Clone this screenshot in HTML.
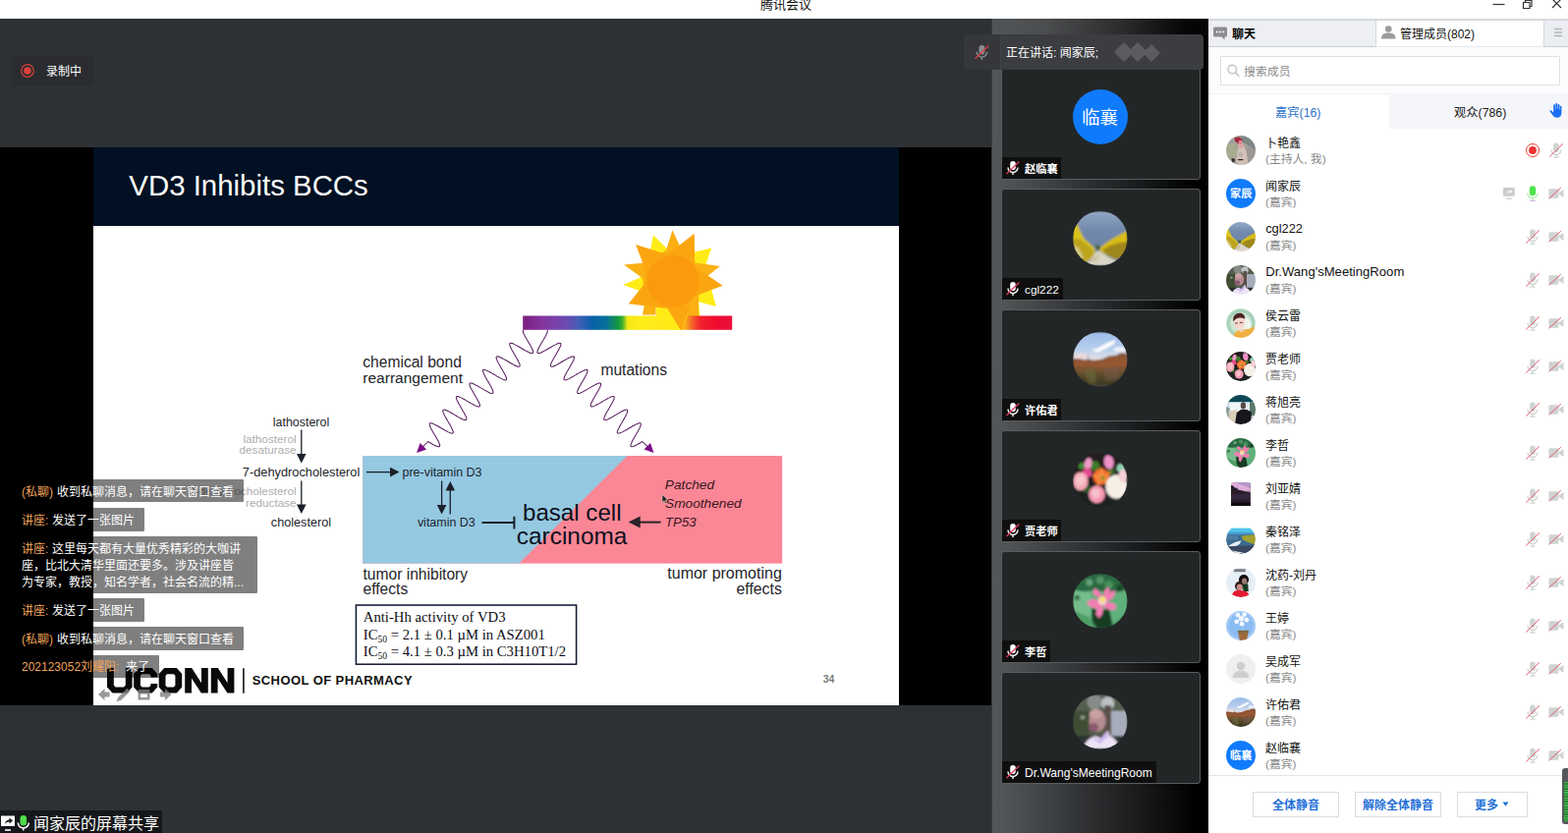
<!DOCTYPE html><html><head><meta charset="utf-8"><title>Tencent Meeting</title><style>
html,body{margin:0;padding:0}
body{width:1596px;height:848px;overflow:hidden;background:#2e3134;position:relative;font-family:"Liberation Sans",sans-serif}
div,span,svg.t,svg.a{position:absolute}
span{white-space:nowrap}
text{white-space:pre}
.ls{font-family:"Liberation Sans",sans-serif}
.lf{font-family:"Liberation Serif",serif}
.lm{font-family:"Liberation Mono",monospace}
.cj{font-family:"Liberation Sans","Noto Sans CJK SC",sans-serif}
svg{overflow:visible}
</style></head><body><svg width="0" height="0" style="position:absolute"><defs><clipPath id="cc"><circle cx="50" cy="50" r="50"/></clipPath><filter id="bl" x="-5%" y="-5%" width="110%" height="110%"><feGaussianBlur stdDeviation="2"/></filter><symbol id="av_road" viewBox="0 0 100 100"><g clip-path="url(#cc)"><g filter="url(#bl)"><linearGradient id="rsky" x1="0" x2="0" y1="0" y2="1"><stop offset="0" stop-color="#93a8c6"/><stop offset=".35" stop-color="#7189ac"/><stop offset="1" stop-color="#6a82a4"/></linearGradient><rect width="100" height="100" fill="url(#rsky)"/><path d="M0 18L8 23L13.400 36.600L20 50L30.600 59L39.500 68L41 74L36.500 84L24.600 93L14 100H0z" fill="#dcc41c"/><path d="M0 52L12 50L24 60L36 70L39 76L34 84L22 92L6 88z" fill="#b39a1c" opacity=".75"/><path d="M0 62L10 66L20 84L10 92L0 90z" fill="#d6cf9a" opacity=".8"/><path d="M100 35L90 41L78 47L66 54.500L56 62L48.500 68L51.500 75L63.400 81L78 88L92 84L100 76z" fill="#d9bb18"/><path d="M100 56L84 58L66 64L54 72L63.400 81L78 88L92 84L100 76z" fill="#8f7a1e" opacity=".8"/><path d="M45.500 72L51.500 75L69 86L80 91L64 100H18L27.600 94L36.500 84L41 76z" fill="#dad6c6"/><path d="M30 92L44 80L50 80L44 92z" fill="#c9bf9c" opacity=".8"/><path d="M40 62L50 62L50 70L44 72z" fill="#50603c"/></g></g></symbol><symbol id="av_mtn" viewBox="0 0 100 100"><g clip-path="url(#cc)"><g filter="url(#bl)"><linearGradient id="msky" x1="0" x2="0" y1="0" y2="1"><stop offset="0" stop-color="#9dbdea"/><stop offset=".3" stop-color="#b5cdec"/><stop offset=".5" stop-color="#e2e2ea"/></linearGradient><linearGradient id="mgr" x1="0" x2="0" y1="0" y2="1"><stop offset=".38" stop-color="#8a5232"/><stop offset=".55" stop-color="#6e5230"/><stop offset=".75" stop-color="#4f4428"/><stop offset="1" stop-color="#37341f"/></linearGradient><rect width="100" height="100" fill="url(#msky)"/><path d="M35 30C40 33 46 30 52 26C60 21 68 18 76 15C79 16 78 20 72 24C64 29 56 32 50 35C44 37 36 35 35 30z" fill="#fff"/><ellipse cx="86" cy="32" rx="12" ry="5" fill="#fff" opacity=".7"/><ellipse cx="14" cy="44" rx="14" ry="4" fill="#f0d8d4" opacity=".8"/><path d="M0 48.500L12 49L23 50.700L27 50L28 41L29 50L38 51.500L53 50L66.400 44L80 42.500L87 38L100 39.500V100H0z" fill="url(#mgr)"/><path d="M0 56L20 53L40 58L60 54L66 48L80 46L100 50V62L60 66L30 62L0 64z" fill="#a05c34" opacity=".55"/><path d="M20 70L40 66L44 92L30 96z" fill="#6c6a3c" opacity=".6"/><path d="M56 66L84 62L86 86L60 90z" fill="#7a5a48" opacity=".5"/></g></g></symbol><symbol id="av_flowers" viewBox="0 0 100 100"><g clip-path="url(#cc)"><g filter="url(#bl)"><rect width="100" height="100" fill="#241a1f"/><rect y="55" width="100" height="45" fill="#1e2022"/><circle cx="40" cy="24" r="9" fill="#3c7c2a"/><circle cx="70" cy="34" r="7" fill="#2f6a24"/><circle cx="16" cy="24" r="6" fill="#3f8a34"/><circle cx="26" cy="66" r="7" fill="#2f5a26"/><ellipse cx="28" cy="20" rx="7" ry="11" fill="#ef9cc6" transform="rotate(15 28 20)"/><ellipse cx="66" cy="17" rx="9" ry="13" fill="#ee93c8" transform="rotate(-10 66 17)"/><circle cx="26" cy="37" r="9" fill="#e44a90"/><circle cx="88" cy="28" r="8" fill="#8fd2b2"/><circle cx="52" cy="44" r="15" fill="#f2672a"/><path d="M52 24L58 40L72 32L62 46L70 58L54 52L44 62L44 48L34 40L48 38z" fill="#f58a3c"/><circle cx="55" cy="46" r="3.500" fill="#6a8a24"/><ellipse cx="14" cy="52" rx="14" ry="17" fill="#f5aab6"/><ellipse cx="14" cy="50" rx="8" ry="10" fill="#f8c4cc"/><ellipse cx="44" cy="76" rx="15" ry="16" fill="#f59ab2"/><ellipse cx="42" cy="74" rx="8" ry="9" fill="#f9c0cc"/><ellipse cx="80" cy="62" rx="20" ry="22" fill="#f6f0e6"/><ellipse cx="92" cy="42" rx="8" ry="12" fill="#f6cfd6"/></g></g></symbol><symbol id="av_lotus" viewBox="0 0 100 100"><g clip-path="url(#cc)"><g filter="url(#bl)"><rect width="100" height="100" fill="#62ae7c"/><path d="M0 0H100V30L70 36L40 30L0 36z" fill="#2a6a42"/><path d="M0 30L30 34L40 60L30 80L0 70z" fill="#74bd8c"/><path d="M66 50L100 40V80L76 92L62 76z" fill="#5fb07c"/><path d="M34 62L50 70L66 62L74 100H36z" fill="#143c22"/><path d="M0 66L30 80L44 100H10z" fill="#4f9e66"/><path d="M70 96L100 70V100z" fill="#3f8f5a"/><circle cx="30" cy="16" r="6" fill="#8fc8a0" opacity=".6"/><circle cx="50" cy="12" r="7" fill="#7fb890" opacity=".5"/><circle cx="66" cy="20" r="8" fill="#4f9a64" opacity=".8"/><circle cx="86" cy="26" r="6" fill="#153c22" opacity=".8"/><circle cx="8" cy="44" r="5" fill="#1f5030" opacity=".7"/><g fill="#f27db2"><path d="M52 48L36 36L40 26L48 32L54 42z"/><path d="M54 46L58 30L66 24L68 34L60 46z"/><path d="M58 48L70 32L79 32L74 44L62 52z"/><path d="M52 50L36 46L24 53L34 62L46 64L54 56z"/><path d="M56 54L70 52L80 58L78 66L64 66L56 60z"/><path d="M50 58L56 62L54 74L48 82L42 74L44 64z"/></g><circle cx="54" cy="50" r="8" fill="#f9cdd2"/><circle cx="54.500" cy="47" r="5" fill="#f5e468"/></g></g></symbol><symbol id="av_wang" viewBox="0 0 100 100"><g clip-path="url(#cc)"><g filter="url(#bl)"><rect width="100" height="100" fill="#555f50"/><rect x="0" y="30" width="30" height="50" fill="#3f4d35"/><circle cx="40" cy="14" r="14" fill="#9aa0a0" opacity=".7"/><circle cx="64" cy="16" r="12" fill="#d8d8e0" opacity=".8"/><rect x="70" y="30" width="30" height="50" fill="#a8adbb"/><rect x="58" y="20" width="12" height="60" fill="#5a5048"/><circle cx="18" cy="42" r="4" fill="#c8d0c0" opacity=".6"/><rect y="76" width="100" height="24" fill="#2c3030"/><ellipse cx="45" cy="48" rx="15.500" ry="20" fill="#b58c90"/><ellipse cx="42" cy="36" rx="12" ry="9" fill="#c9a2a2"/><ellipse cx="38" cy="60" rx="9" ry="8" fill="#8a5a70"/><path d="M18 100C22 84 34 78 42 76L52 80L64 66L68 76C80 82 84 92 86 100z" fill="#ece4f6"/><path d="M34 80L50 82L62 68L66 76L50 90z" fill="#cdb8ee"/></g></g></symbol><symbol id="av_baby" viewBox="0 0 100 100"><g clip-path="url(#cc)"><g filter="url(#bl)"><rect width="100" height="100" fill="#a0a09a"/><path d="M50 0H100V50C86 42 70 30 56 22z" fill="#7d8585"/><path d="M0 30L34 24L36 70L10 90L0 80z" fill="#a9aa92"/><path d="M66 40L100 50V80L70 96z" fill="#9c9894"/><path d="M34 92L38 50L44 36L60 34L68 52L74 90L50 100z" fill="#d3c1b6"/><circle cx="50" cy="34" r="10" fill="#dba8a4"/><path d="M28 8L44 4L56 14L50 28L38 26L30 18z" fill="#a62a3c"/><circle cx="48" cy="22" r="6" fill="#e08a94"/><rect x="42" y="58" width="14" height="14" fill="#b6b2ac"/><rect x="40" y="80" width="18" height="4" fill="#30201c"/><path d="M18 76L30 80L28 92L20 88z" fill="#3a2a2a"/></g></g></symbol><symbol id="av_cartoon" viewBox="0 0 100 100"><g clip-path="url(#cc)"><g filter="url(#bl)"><rect width="100" height="100" fill="#cfe6d6"/><circle cx="50" cy="50" r="42" fill="none" stroke="#a8d2ba" stroke-width="12"/><circle cx="62" cy="56" r="24" fill="#eef4ea"/><path d="M24 100C26 80 40 72 56 72C76 72 90 66 94 58L100 100z" fill="#f0b040"/><path d="M40 70L58 68L60 78L46 80z" fill="#f3d2c4"/><ellipse cx="45" cy="46" rx="19" ry="23" fill="#f6d6cc"/><path d="M24 44C22 26 32 16 46 16C58 16 64 24 64 36C54 30 40 30 30 38z" fill="#4a2420"/><path d="M30 50h10M46 48h10" stroke="#5a2a2a" stroke-width="3"/></g></g></symbol><symbol id="av_jiang" viewBox="0 0 100 100"><g clip-path="url(#cc)"><g filter="url(#bl)"><rect width="100" height="100" fill="#cfdfe8"/><path d="M0 0H100V24H0z" fill="#0e4658"/><rect x="12" y="26" width="40" height="36" fill="#eef6fa"/><rect x="66" y="26" width="14" height="32" fill="#e4eef4"/><rect x="80" y="24" width="20" height="50" fill="#5a7a6a"/><path d="M0 40L12 44V100H0z" fill="#8a9a98"/><path d="M8 56L36 50L34 100H12z" fill="#d9ceb8"/><ellipse cx="58" cy="36" rx="9" ry="12" fill="#5a4a4a"/><path d="M30 100L36 60L50 50L70 50L86 58L84 100z" fill="#14141a"/><rect x="86" y="70" width="14" height="30" fill="#c8ccd0"/></g></g></symbol><symbol id="av_liu" viewBox="0 0 100 100"><g clip-path="url(#cc)"><g filter="url(#bl)"><rect width="100" height="100" fill="#2b1e2e"/><rect width="100" height="34" fill="#b796cc"/><path d="M0 0L0 14L24 22L44 30L70 38L100 40V26L70 14L30 4z" fill="#e6b4dc" opacity=".85"/><path d="M0 12L10 14L24 26L30 22L36 32L50 34L56 40L70 42L100 44V100H0z" fill="#2a1a2c"/><path d="M0 50L100 46V70L0 74z" fill="#3a2c40" opacity=".7"/><rect y="84" width="100" height="16" fill="#0e0810"/></g></g></symbol><symbol id="av_qin" viewBox="0 0 100 100"><g clip-path="url(#cc)"><g filter="url(#bl)"><rect width="100" height="100" fill="#fff"/><rect y="12" width="100" height="20" fill="#4fc4e8"/><rect y="26" width="100" height="10" fill="#4a9ad0"/><rect y="34" width="100" height="40" fill="#3a6a90"/><path d="M52 38L100 34V68L78 62L56 52z" fill="#a0a030"/><path d="M8 72L30 60L52 54L46 66L24 80z" fill="#e8eef2"/><path d="M0 74L100 70V100H0z" fill="#3a4a64"/><path d="M20 88L60 96L40 100z" fill="#e0e6ea"/><rect y="36" width="40" height="16" fill="#5a8ab0" opacity=".6"/></g></g></symbol><symbol id="av_shen" viewBox="0 0 100 100"><g clip-path="url(#cc)"><g filter="url(#bl)"><rect width="100" height="100" fill="#e6eef6"/><rect x="26" y="4" width="40" height="10" fill="#7a7e86"/><ellipse cx="60" cy="40" rx="17" ry="17" fill="#14100f"/><ellipse cx="62" cy="46" rx="9" ry="11" fill="#9a7a74"/><path d="M56 56L74 54L76 80L58 80z" fill="#143a24"/><ellipse cx="44" cy="62" rx="14" ry="15" fill="#2a1a18"/><ellipse cx="46" cy="66" rx="10" ry="11" fill="#c89088"/><path d="M18 100C20 84 30 76 42 76L60 78C72 78 78 88 80 100z" fill="#e01c30"/></g></g></symbol><symbol id="av_wting" viewBox="0 0 100 100"><g clip-path="url(#cc)"><g filter="url(#bl)"><rect width="100" height="100" fill="#8cbcf4"/><circle cx="50" cy="50" r="46" fill="none" stroke="#a8ccf6" stroke-width="6"/><g fill="#f4f8ff"><circle cx="40" cy="14" r="8"/><circle cx="62" cy="12" r="8"/><circle cx="36" cy="36" r="8"/><circle cx="54" cy="44" r="8"/><circle cx="70" cy="30" r="8"/><circle cx="52" cy="26" r="9"/></g><path d="M56 50V70" stroke="#9ac8e8" stroke-width="3"/><path d="M40 68H76L70 100H46z" fill="#a0683c"/><rect x="40" y="66" width="36" height="8" fill="#7a6a3a"/></g></g></symbol><symbol id="av_default" viewBox="0 0 100 100"><g clip-path="url(#cc)"><g filter="url(#bl)"><rect width="100" height="100" fill="#efefef"/><circle cx="50" cy="40" r="14" fill="#cfcfcf"/><path d="M22 80C22 62 36 56 50 56C64 56 78 62 78 80z" fill="#cfcfcf"/></g></g></symbol></defs></svg><div style="left:0px;top:0px;width:1596px;height:19px;background:#fff"></div><svg class="t" style="left:773.8px;top:-5.2px" width="54.0" height="19.5"><text class="cj" x="0" y="13.65" font-size="13" fill="#111">腾讯会议</text></svg><svg class="a" style="left:1510px;top:0" width="86" height="19"><g stroke="#333" stroke-width="1.2" fill="none"><path d="M9.5 4.5h12"/><path d="M40.500 2.500h6.500v6h-6.500zM42.500 2.500v-2h6.500v6h-2"/><path d="M70 -1l9 9M79 -1l-9 9"/></g></svg><div style="left:13px;top:57px;width:82px;height:30px;background:#2a2c2f;border-radius:2px"></div><svg class="a" style="left:20px;top:64px" width="16" height="16"><circle cx="8" cy="8" r="6.3" fill="none" stroke="#d8403a" stroke-width="1.2"/><circle cx="8" cy="8" r="3.8" fill="#d8403a"/></svg><svg class="t" style="left:47.0px;top:64.3px" width="38.0" height="18.0"><text class="cj" x="0" y="12.6" font-size="12" fill="#fff">录制中</text></svg><div style="left:0px;top:150px;width:1009px;height:568px;background:#000"></div><div style="left:95px;top:150px;width:819.5px;height:568px;background:#fff"></div><div style="left:95px;top:150px;width:819.5px;height:80px;background:#011023"></div><svg class="t" style="left:0;top:0" width="1" height="1"><text class="ls" x="131.3" y="198.9" font-size="29.4" fill="#fff" text-anchor="start" textLength="243.5" lengthAdjust="spacing">VD3 Inhibits BCCs</text></svg><svg class="a" style="left:0;top:0" width="1009" height="848"><defs><linearGradient id="spec" x1="0" x2="1" y1="0" y2="0"><stop offset="0" stop-color="#7c1f80"/><stop offset="0.1" stop-color="#8436a0"/><stop offset="0.21" stop-color="#6b4cb2"/><stop offset="0.27" stop-color="#3f5fb5"/><stop offset="0.33" stop-color="#0a5fa9"/><stop offset="0.4" stop-color="#08709a"/><stop offset="0.455" stop-color="#12993e"/><stop offset="0.475" stop-color="#3cae2e"/><stop offset="0.5" stop-color="#f3e714"/><stop offset="0.56" stop-color="#ffee18"/><stop offset="0.74" stop-color="#ffe61a"/><stop offset="0.78" stop-color="#f9a51c"/><stop offset="0.81" stop-color="#f6602a"/><stop offset="0.85" stop-color="#f0202c"/><stop offset="0.93" stop-color="#f00a30"/><stop offset="1" stop-color="#e9113c"/></linearGradient></defs><polygon points="664.9,239.2 682.1,256.4 694.0,254.4 707.2,256.4 724.3,252.4 717.7,271.6 729.0,311.9 711.1,307.2 712.5,322.0 668.2,322.0 667.5,307.2 653.0,296.7 634.3,290.1 655.7,280.8 659.6,267.6" fill="#ffec17"/><polygon points="684.5,234.3 692.0,250.5 706.5,237.9 707.2,267.6 732.9,270.9 720.4,280.8 711.1,296.7 711.1,322.0 699.2,322.0 699.2,307.2 667.5,309.9 667.5,320.5 654.1,320.5 656.3,307.2 654.3,283.5 635.2,269.6 657.0,267.6 678.1,254.4" fill="#fbb013"/><polygon points="647.1,249.1 679.4,259.0 706.5,237.9 707.2,271.6 735.6,290.7 705.9,302.0 699.2,312.5 693.3,335.0 679.4,313.9 639.8,309.2 658.3,286.1 655.7,271.6" fill="#fba610"/><rect x="532.2" y="321.5" width="213" height="14.3" fill="url(#spec)"/><polygon points="668.2,321.1 699.5,321.1 694.8,335.6 679.4,335.6 668.2,322.0" fill="#ffec17"/><polygon points="679.4,313.9 702.6,312.5 699.0,321.1 694.8,335.6 692.4,335.6" fill="#fba610"/><circle cx="684.7" cy="286.1" r="26.4" fill="#fb9a0d"/><path d="M532.6 336.0 532.4 336.3 532.3 336.7 532.3 337.3 532.5 338.0 532.7 338.8 533.1 339.7 533.6 340.6 534.1 341.7 534.7 342.9 535.4 344.0 536.1 345.3 536.8 346.5 537.6 347.8 538.3 349.1 539.1 350.4 539.8 351.6 540.4 352.8 541.0 353.9 541.5 354.9 542.0 355.9 542.3 356.8 542.6 357.6 542.7 358.2 542.7 358.8 542.6 359.2 542.4 359.5 542.1 359.7 541.6 359.7 541.0 359.6 540.3 359.5 539.5 359.2 538.6 358.8 537.6 358.3 536.5 357.8 535.3 357.1 534.1 356.5 532.9 355.8 531.6 355.0 530.3 354.3 529.1 353.5 527.8 352.8 526.6 352.1 525.4 351.4 524.3 350.9 523.3 350.4 522.3 349.9 521.5 349.6 520.7 349.4 520.1 349.3 519.6 349.3 519.2 349.4 518.9 349.6 518.7 350.0 518.7 350.5 518.8 351.1 519.0 351.8 519.3 352.7 519.7 353.6 520.2 354.6 520.8 355.7 521.4 356.9 522.1 358.1 522.8 359.3 523.5 360.6 524.3 361.9 525.0 363.2 525.8 364.4 526.4 365.6 527.1 366.8 527.7 367.9 528.1 368.9 528.6 369.8 528.9 370.7 529.1 371.4 529.2 372.0 529.1 372.5 529.0 372.9 528.7 373.1 528.3 373.3 527.8 373.3 527.2 373.2 526.4 372.9 525.6 372.6 524.6 372.2 523.6 371.7 522.5 371.1 521.3 370.5 520.1 369.8 518.8 369.0 517.6 368.3 516.3 367.5 515.0 366.8 513.8 366.1 512.6 365.4 511.4 364.8 510.3 364.2 509.3 363.8 508.4 363.4 507.6 363.1 506.9 362.9 506.3 362.8 505.8 362.9 505.5 363.1 505.2 363.3 505.1 363.8 505.1 364.3 505.3 365.0 505.5 365.7 505.9 366.6 506.3 367.6 506.8 368.6 507.4 369.7 508.1 370.9 508.8 372.1 509.5 373.4 510.3 374.7 511.0 376.0 511.7 377.2 512.5 378.5 513.1 379.7 513.7 380.8 514.3 381.9 514.7 382.8 515.1 383.7 515.4 384.5 515.5 385.2 515.6 385.8 515.5 386.2 515.3 386.6 515.0 386.8 514.5 386.9 514.0 386.8 513.3 386.7 512.5 386.4 511.6 386.0 510.6 385.6 509.6 385.1 508.4 384.4 507.3 383.8 506.0 383.1 504.8 382.3 503.5 381.6 502.2 380.8 500.9 380.1 499.7 379.4 498.5 378.7 497.4 378.1 496.4 377.6 495.4 377.2 494.5 376.8 493.7 376.6 493.1 376.4 492.5 376.4 492.1 376.5 491.8 376.7 491.6 377.1 491.5 377.5 491.6 378.1 491.8 378.8 492.1 379.6 492.4 380.5 492.9 381.5 493.5 382.6 494.1 383.8 494.8 385.0 495.5 386.2 496.2 387.5 497.0 388.8 497.7 390.0 498.4 391.3 499.1 392.5 499.8 393.7 500.4 394.8 500.9 395.8 501.3 396.8 501.6 397.6 501.9 398.4 502.0 399.0 502.0 399.6 501.9 400.0 501.6 400.2 501.3 400.4 500.8 400.4 500.2 400.4 499.4 400.2 498.6 399.9 497.7 399.5 496.7 399.0 495.6 398.4 494.4 397.8 493.2 397.1 492.0 396.4 490.7 395.6 489.4 394.9 488.1 394.1 486.9 393.4 485.7 392.7 484.5 392.1 483.4 391.5 482.4 391.0 481.5 390.6 480.6 390.3 479.9 390.1 479.3 390.0 478.8 390.0 478.4 390.2 478.1 390.4 478.0 390.8 478.0 391.3 478.1 392.0 478.3 392.7 478.6 393.6 479.0 394.5 479.5 395.5 480.1 396.6 480.8 397.8 481.5 399.0 482.2 400.3 482.9 401.5 483.7 402.8 484.4 404.1 485.1 405.3 485.8 406.5 486.4 407.7 487.0 408.8 487.5 409.8 487.9 410.7 488.2 411.5 488.4 412.2 488.4 412.8 488.4 413.3 488.2 413.7 487.9 413.9 487.5 414.0 487.0 414.0 486.3 413.9 485.6 413.6 484.7 413.3 483.7 412.9 482.7 412.3 481.6 411.7 480.4 411.1 479.2 410.4 477.9 409.7 476.6 408.9 475.3 408.2 474.1 407.4 472.8 406.7 471.6 406.0 470.5 405.4 469.4 404.9 468.4 404.4 467.5 404.0 466.7 403.8 466.1 403.6 465.5 403.6 465.0 403.6 464.7 403.8 464.5 404.1 464.4 404.6 464.4 405.1 464.6 405.8 464.8 406.6 465.2 407.5 465.7 408.5 466.2 409.5 466.8 410.7 467.5 411.8 468.2 413.1 468.9 414.3 469.6 415.6 470.4 416.9 471.1 418.2 471.8 419.4 472.5 420.6 473.1 421.7 473.6 422.8 474.1 423.7 474.4 424.6 474.7 425.4 474.8 426.1 474.9 426.6 474.8 427.0 474.5 427.3 474.2 427.5 473.7 427.6 473.2 427.5 472.5 427.4 471.6 427.1 470.7 426.7 469.7 426.2 468.7 425.7 467.5 425.1 466.3 424.4 465.1 423.7 463.8 422.9 462.5 422.2 461.3 421.4 460.0 420.7 458.8 420.0 457.6 419.4 456.5 418.8 455.5 418.3 454.5 417.8 453.6 417.5 452.9 417.3 452.2 417.1 451.7 417.1 451.3 417.3 451.0 417.5 450.9 417.9 450.8 418.4 450.9 419.0 451.1 419.7 451.4 420.5 451.8 421.4 452.3 422.4 452.8 423.5 453.5 424.7 454.1 425.9 454.9 427.1 455.6 428.4 456.4 429.7 457.1 431.0 457.8 432.2 458.5 433.4 459.2 434.6 459.7 435.7 460.2 436.7 460.6 437.7 461.0 438.5 461.2 439.2 461.3 439.9 461.3 440.4 461.1 440.7 460.8 441.0 460.5 441.1 459.9 441.2 459.3 441.1 458.6 440.8 457.7 440.5 456.8 440.1 455.8 439.6 454.7 439.0 453.5 438.4 452.3 437.7 451.0 437.0 449.8 436.2 448.5 435.5 447.2 434.7 446.0 434.0 444.8 433.3 443.6 432.7 442.5 432.1 441.5 431.7 440.6 431.3 439.8 431.0 439.0 430.8 438.4 430.7 438.0 430.8 437.6 430.9 437.4 431.2 437.3 431.6 437.3 432.2 437.4 432.8 437.6 433.6 438.0 434.4 438.4 435.4 438.9 436.4 439.5 437.5 440.1 438.7 440.8 440.0 441.6 441.2 442.3 442.5 443.1 443.8 443.8 445.0 444.5 446.3 445.2 447.5 445.8 448.6 446.4 449.7 446.8 450.7 447.2 451.6 447.5 452.4 447.6 453.1 447.7 453.6 447.6 454.1 447.4 454.4 447.1 454.7 446.7 454.7 446.1 454.7 445.5 454.6 444.7 454.3 443.8 454.0 442.8 453.5 441.8 453.0 440.6 452.4 439.5 451.7 438.2 451.0 437.0 450.3 435.7 449.5 428.3 456.9" fill="none" stroke="#55175b" stroke-width="1.02" stroke-linejoin="round"/><polygon points="424.1,461.1 434.1,457.6 427.6,451.1" fill="#7a0a84"/><path d="M557.0 336.0 557.2 336.3 557.3 336.7 557.3 337.3 557.1 338.0 556.9 338.8 556.5 339.7 556.0 340.6 555.5 341.7 554.9 342.9 554.2 344.0 553.5 345.3 552.8 346.5 552.0 347.8 551.3 349.1 550.5 350.4 549.8 351.6 549.2 352.8 548.6 353.9 548.1 354.9 547.6 355.9 547.3 356.8 547.0 357.6 546.9 358.2 546.9 358.8 547.0 359.2 547.2 359.5 547.5 359.7 548.0 359.7 548.6 359.6 549.3 359.5 550.1 359.2 551.0 358.8 552.0 358.3 553.1 357.8 554.3 357.1 555.5 356.5 556.7 355.8 558.0 355.0 559.3 354.3 560.5 353.5 561.8 352.8 563.0 352.1 564.2 351.4 565.3 350.9 566.3 350.4 567.3 349.9 568.1 349.6 568.9 349.4 569.5 349.3 570.0 349.3 570.4 349.4 570.7 349.6 570.9 350.0 570.9 350.5 570.8 351.1 570.6 351.8 570.3 352.7 569.9 353.6 569.4 354.6 568.8 355.7 568.2 356.9 567.5 358.1 566.8 359.3 566.1 360.6 565.3 361.9 564.6 363.2 563.8 364.4 563.2 365.6 562.5 366.8 561.9 367.9 561.5 368.9 561.0 369.8 560.7 370.7 560.5 371.4 560.4 372.0 560.5 372.5 560.6 372.9 560.9 373.1 561.3 373.3 561.8 373.3 562.4 373.2 563.2 372.9 564.0 372.6 565.0 372.2 566.0 371.7 567.1 371.1 568.3 370.5 569.5 369.8 570.8 369.0 572.0 368.3 573.3 367.5 574.6 366.8 575.8 366.1 577.0 365.4 578.2 364.8 579.3 364.2 580.3 363.8 581.2 363.4 582.0 363.1 582.7 362.9 583.3 362.8 583.8 362.9 584.1 363.1 584.4 363.3 584.5 363.8 584.5 364.3 584.3 365.0 584.1 365.7 583.7 366.6 583.3 367.6 582.8 368.6 582.2 369.7 581.5 370.9 580.8 372.1 580.1 373.4 579.3 374.7 578.6 376.0 577.9 377.2 577.1 378.5 576.5 379.7 575.9 380.8 575.3 381.9 574.9 382.8 574.5 383.7 574.2 384.5 574.1 385.2 574.0 385.8 574.1 386.2 574.3 386.6 574.6 386.8 575.1 386.9 575.6 386.8 576.3 386.7 577.1 386.4 578.0 386.0 579.0 385.6 580.0 385.1 581.2 384.4 582.3 383.8 583.6 383.1 584.8 382.3 586.1 381.6 587.4 380.8 588.7 380.1 589.9 379.4 591.1 378.7 592.2 378.1 593.2 377.6 594.2 377.2 595.1 376.8 595.9 376.6 596.5 376.4 597.1 376.4 597.5 376.5 597.8 376.7 598.0 377.1 598.1 377.5 598.0 378.1 597.8 378.8 597.5 379.6 597.2 380.5 596.7 381.5 596.1 382.6 595.5 383.8 594.8 385.0 594.1 386.2 593.4 387.5 592.6 388.8 591.9 390.0 591.2 391.3 590.5 392.5 589.8 393.7 589.2 394.8 588.7 395.8 588.3 396.8 588.0 397.6 587.7 398.4 587.6 399.0 587.6 399.6 587.7 400.0 588.0 400.2 588.3 400.4 588.8 400.4 589.4 400.4 590.2 400.2 591.0 399.9 591.9 399.5 592.9 399.0 594.0 398.4 595.2 397.8 596.4 397.1 597.6 396.4 598.9 395.6 600.2 394.9 601.5 394.1 602.7 393.4 603.9 392.7 605.1 392.1 606.2 391.5 607.2 391.0 608.1 390.6 609.0 390.3 609.7 390.1 610.3 390.0 610.8 390.0 611.2 390.2 611.5 390.4 611.6 390.8 611.6 391.3 611.5 392.0 611.3 392.7 611.0 393.6 610.6 394.5 610.1 395.5 609.5 396.6 608.8 397.8 608.1 399.0 607.4 400.3 606.7 401.5 605.9 402.8 605.2 404.1 604.5 405.3 603.8 406.5 603.2 407.7 602.6 408.8 602.1 409.8 601.7 410.7 601.4 411.5 601.2 412.2 601.2 412.8 601.2 413.3 601.4 413.7 601.7 413.9 602.1 414.0 602.6 414.0 603.3 413.9 604.0 413.6 604.9 413.3 605.9 412.9 606.9 412.3 608.0 411.7 609.2 411.1 610.4 410.4 611.7 409.7 613.0 408.9 614.3 408.2 615.5 407.4 616.8 406.7 618.0 406.0 619.1 405.4 620.2 404.9 621.2 404.4 622.1 404.0 622.9 403.8 623.5 403.6 624.1 403.6 624.6 403.6 624.9 403.8 625.1 404.1 625.2 404.6 625.2 405.1 625.0 405.8 624.8 406.6 624.4 407.5 623.9 408.5 623.4 409.5 622.8 410.7 622.1 411.8 621.4 413.1 620.7 414.3 620.0 415.6 619.2 416.9 618.5 418.2 617.8 419.4 617.1 420.6 616.5 421.7 616.0 422.8 615.5 423.7 615.2 424.6 614.9 425.4 614.8 426.1 614.7 426.6 614.8 427.0 615.1 427.3 615.4 427.5 615.9 427.6 616.4 427.5 617.1 427.4 618.0 427.1 618.9 426.7 619.9 426.2 620.9 425.7 622.1 425.1 623.3 424.4 624.5 423.7 625.8 422.9 627.1 422.2 628.3 421.4 629.6 420.7 630.8 420.0 632.0 419.4 633.1 418.8 634.1 418.3 635.1 417.8 636.0 417.5 636.7 417.3 637.4 417.1 637.9 417.1 638.3 417.3 638.6 417.5 638.7 417.9 638.8 418.4 638.7 419.0 638.5 419.7 638.2 420.5 637.8 421.4 637.3 422.4 636.8 423.5 636.1 424.7 635.5 425.9 634.7 427.1 634.0 428.4 633.2 429.7 632.5 431.0 631.8 432.2 631.1 433.4 630.4 434.6 629.9 435.7 629.4 436.7 629.0 437.7 628.6 438.5 628.4 439.2 628.3 439.9 628.3 440.4 628.5 440.7 628.8 441.0 629.1 441.1 629.7 441.2 630.3 441.1 631.0 440.8 631.9 440.5 632.8 440.1 633.8 439.6 634.9 439.0 636.1 438.4 637.3 437.7 638.6 437.0 639.8 436.2 641.1 435.5 642.4 434.7 643.6 434.0 644.8 433.3 646.0 432.7 647.1 432.1 648.1 431.7 649.0 431.3 649.8 431.0 650.6 430.8 651.2 430.7 651.6 430.8 652.0 430.9 652.2 431.2 652.3 431.6 652.3 432.2 652.2 432.8 652.0 433.6 651.6 434.4 651.2 435.4 650.7 436.4 650.1 437.5 649.5 438.7 648.8 440.0 648.0 441.2 647.3 442.5 646.5 443.8 645.8 445.0 645.1 446.3 644.4 447.5 643.8 448.6 643.2 449.7 642.8 450.7 642.4 451.6 642.1 452.4 642.0 453.1 641.9 453.6 642.0 454.1 642.2 454.4 642.5 454.7 642.9 454.7 643.5 454.7 644.1 454.6 644.9 454.3 645.8 454.0 646.8 453.5 647.8 453.0 649.0 452.4 650.1 451.7 651.4 451.0 652.6 450.3 653.9 449.5 661.3 456.9" fill="none" stroke="#55175b" stroke-width="1.02" stroke-linejoin="round"/><polygon points="665.5,461.1 655.5,457.6 662.0,451.1" fill="#7a0a84"/><rect x="369.2" y="464" width="427" height="109.6" fill="#fb8796"/><polygon points="369.2,464 638.5,464 528.3,573.6 369.2,573.6" fill="#95c9e1"/><path d="M306.8 437.5V465.8" stroke="#1b1f2a" stroke-width="1.3"/><polygon points="306.8,471.5 302,462 311.6,462" fill="#1b1f2a"/><path d="M306.8 489.5V517.3" stroke="#1b1f2a" stroke-width="1.3"/><polygon points="306.8,523 302,513.5 311.6,513.5" fill="#1b1f2a"/><path d="M373 480.6H400.8" stroke="#1b1f2a" stroke-width="1.3"/><polygon points="406.5,480.6 397,475.8 397,485.4" fill="#1b1f2a"/><path d="M449.6 489.7V517.7" stroke="#1b1f2a" stroke-width="1.3"/><polygon points="449.6,523.4 444.8,513.9 454.4,513.9" fill="#1b1f2a"/><path d="M458.3 523.4V495.7" stroke="#1b1f2a" stroke-width="1.3"/><polygon points="458.3,490 453.5,499.5 463.1,499.5" fill="#1b1f2a"/><path d="M490.5 532H523.4M523.4 525.7V538.5" stroke="#1b1f2a" stroke-width="2" fill="none"/><path d="M672.6 531.6H646.9" stroke="#2a2226" stroke-width="2"/><polygon points="639.7,531.6 651.7,525.6 651.7,537.6" fill="#2a2226"/><rect x="362.4" y="616" width="224.2" height="60.2" fill="#fff" stroke="#0d1530" stroke-width="1.5"/><path d="M674 503.5l0 8 2-1.8 1.6 3 1.2-.6-1.6-3 2.6-.2z" fill="#222" stroke="#fff" stroke-width=".4"/><path fill="#0a0a0a" fill-rule="evenodd" d="M109 680L109 699.5L114.5 705.6L129.1 705.6L134.6 699.5L134.6 680L127.8 680L127.8 697.6L126 699.4L117.6 699.4L115.8 697.6L115.8 680zM136.1 686L141.6 680L154.8 680L160.2 686L160.2 689.6L153.4 689.6L153.4 687.8L151.8 686.2L144.6 686.2L142.9 687.8L142.9 697.8L144.6 699.4L151.8 699.4L153.4 697.8L153.4 696L160.2 696L160.2 699.6L154.8 705.6L141.6 705.6L136.1 699.6zM161.7 686L167.2 680L179.8 680L185.2 686L185.2 699.6L179.8 705.6L167.2 705.6L161.7 699.6zM168.5 687.8L170.1 686.2L176.8 686.2L178.4 687.8L178.4 697.8L176.8 699.4L170.1 699.4L168.5 697.8zM188.2 680L195.2 680L205 695.2L205 680L211.8 680L211.8 705.6L204.8 705.6L195 690.4L195 705.6L188.2 705.6zM214.8 680L221.8 680L231.6 695.2L231.6 680L238.4 680L238.4 705.6L231.4 705.6L221.6 690.4L221.6 705.6L214.8 705.6z"/><rect x="247.100" y="680.300" width="1.600" height="25.400" fill="#111"/></svg><svg class="t" style="left:0;top:0" width="1" height="1"><text class="ls" x="369.3" y="373.8" font-size="15.6" fill="#25252a" text-anchor="start" textLength="100.6" lengthAdjust="spacing">chemical bond</text></svg><svg class="t" style="left:0;top:0" width="1" height="1"><text class="ls" x="369.3" y="390.4" font-size="15.5" fill="#25252a" text-anchor="start" textLength="101.7" lengthAdjust="spacing">rearrangement</text></svg><svg class="t" style="left:0;top:0" width="1" height="1"><text class="ls" x="611.4" y="381.8" font-size="15.6" fill="#25252a" text-anchor="start" textLength="67.6" lengthAdjust="spacing">mutations</text></svg><svg class="t" style="left:0;top:0" width="1" height="1"><text class="ls" x="277.8" y="433.6" font-size="12.45" fill="#25252a" text-anchor="start" textLength="57.4" lengthAdjust="spacing">lathosterol</text></svg><svg class="t" style="left:0;top:0" width="1" height="1"><text class="ls" x="301.5" y="450.6" font-size="11.7" fill="#adadaf" text-anchor="end" textLength="54.0" lengthAdjust="spacing">lathosterol</text></svg><svg class="t" style="left:0;top:0" width="1" height="1"><text class="ls" x="301.5" y="462" font-size="11.7" fill="#adadaf" text-anchor="end" textLength="57.9" lengthAdjust="spacing">desaturase</text></svg><svg class="t" style="left:0;top:0" width="1" height="1"><text class="ls" x="246.8" y="484.8" font-size="12.8" fill="#25252a" text-anchor="start" textLength="119.5" lengthAdjust="spacing">7-dehydrocholesterol</text></svg><svg class="t" style="left:0;top:0" width="1" height="1"><text class="ls" x="301.5" y="504" font-size="11.7" fill="#adadaf" text-anchor="end" textLength="109.3" lengthAdjust="spacing">7-dehydrocholesterol</text></svg><svg class="t" style="left:0;top:0" width="1" height="1"><text class="ls" x="301.5" y="515.6" font-size="11.7" fill="#adadaf" text-anchor="end" textLength="51.4" lengthAdjust="spacing">reductase</text></svg><svg class="t" style="left:0;top:0" width="1" height="1"><text class="ls" x="275.8" y="536" font-size="12.65" fill="#25252a" text-anchor="start" textLength="61.2" lengthAdjust="spacing">cholesterol</text></svg><svg class="t" style="left:0;top:0" width="1" height="1"><text class="ls" x="409.5" y="484.8" font-size="12.45" fill="#1a2430" text-anchor="start" textLength="81.0" lengthAdjust="spacing">pre-vitamin D3</text></svg><svg class="t" style="left:0;top:0" width="1" height="1"><text class="ls" x="424.9" y="536.2" font-size="12.45" fill="#1a2430" text-anchor="start" textLength="58.8" lengthAdjust="spacing">vitamin D3</text></svg><svg class="t" style="left:0;top:0" width="1" height="1"><text class="ls" x="532" y="530" font-size="24.1" fill="#0c0f1c" text-anchor="start" textLength="100.5" lengthAdjust="spacing">basal cell</text></svg><svg class="t" style="left:0;top:0" width="1" height="1"><text class="ls" x="525.8" y="553.5" font-size="24.4" fill="#0c0f1c" text-anchor="start" textLength="112.6" lengthAdjust="spacing">carcinoma</text></svg><svg class="t" style="left:0;top:0" width="1" height="1"><text class="ls" x="676.8" y="498" font-size="13.7" fill="#3a1620" text-anchor="start" font-style="italic" textLength="50.3" lengthAdjust="spacing">Patched</text></svg><svg class="t" style="left:0;top:0" width="1" height="1"><text class="ls" x="677" y="517.2" font-size="13.7" fill="#3a1620" text-anchor="start" font-style="italic" textLength="77.7" lengthAdjust="spacing">Smoothened</text></svg><svg class="t" style="left:0;top:0" width="1" height="1"><text class="ls" x="677" y="536.4" font-size="13.2" fill="#3a1620" text-anchor="start" font-style="italic" textLength="31.6" lengthAdjust="spacing">TP53</text></svg><svg class="t" style="left:0;top:0" width="1" height="1"><text class="ls" x="369.5" y="589.6" font-size="15.6" fill="#25252a" text-anchor="start" textLength="106.6" lengthAdjust="spacing">tumor inhibitory</text></svg><svg class="t" style="left:0;top:0" width="1" height="1"><text class="ls" x="369.5" y="605.3" font-size="15.6" fill="#25252a" text-anchor="start" textLength="45.7" lengthAdjust="spacing">effects</text></svg><svg class="t" style="left:0;top:0" width="1" height="1"><text class="ls" x="795.8" y="589.3" font-size="16" fill="#25252a" text-anchor="end" textLength="116.5" lengthAdjust="spacing">tumor promoting</text></svg><svg class="t" style="left:0;top:0" width="1" height="1"><text class="ls" x="795.8" y="605.4" font-size="15.8" fill="#25252a" text-anchor="end" textLength="46.3" lengthAdjust="spacing">effects</text></svg><svg class="t" style="left:0;top:0" width="1" height="1"><text class="lf" x="369.8" y="633" font-size="14.7" fill="#0c0c14" text-anchor="start" textLength="144.7" lengthAdjust="spacing">Anti-Hh activity of VD3</text></svg><svg class="t" style="left:0;top:0" width="1" height="1"><text class="lf" x="369.8" y="650.5" font-size="14.7" fill="#0c0c14" text-anchor="start" textLength="185.0" lengthAdjust="spacing">IC<tspan font-size="9.5" dy="3">50</tspan><tspan dy="-3"> </tspan>= 2.1 ± 0.1 µM in ASZ001</text></svg><svg class="t" style="left:0;top:0" width="1" height="1"><text class="lf" x="369.8" y="667.6" font-size="14.7" fill="#0c0c14" text-anchor="start" textLength="206.2" lengthAdjust="spacing">IC<tspan font-size="9.5" dy="3">50</tspan><tspan dy="-3"> </tspan>= 4.1 ± 0.3 µM in C3H10T1/2</text></svg><svg class="t" style="left:0;top:0" width="1" height="1"><text class="ls" x="256.7" y="697" font-size="13" fill="#111" text-anchor="start" font-weight="bold" letter-spacing="0.42" textLength="163.3" lengthAdjust="spacing">SCHOOL OF PHARMACY</text></svg><svg class="t" style="left:0;top:0" width="1" height="1"><text class="ls" x="837.7" y="695" font-size="10.5" fill="#7a7a7a" text-anchor="start" font-weight="bold" textLength="11.7" lengthAdjust="spacing">34</text></svg><svg class="a" style="left:99px;top:699px;opacity:.8" width="84" height="18"><g fill="#808080"><path d="M1 8l6.500-6v3.500h5v5h-5V14z"/><path d="M19.500 15.500l1.800-4.800 9-9 3 3-9 9z"/><path d="M41.500 3h12v10.500h-12zM44 7.500v3.500h7V7.500z" fill-rule="evenodd"/><path d="M75.500 8l-6.500-6v3.500h-5v5h5V14z"/></g></svg><div style="left:12px;top:488px;width:236px;height:23px;background:rgba(0,0,0,.5);border-radius:1px"></div><svg class="t" style="left:22.0px;top:491.8px" width="34.1" height="18.0"><text class="cj" x="0" y="12.6" font-size="12" fill="#f0a35a">(私聊)</text></svg><svg class="t" style="left:58.0px;top:491.8px" width="182.0" height="18.0"><text class="cj" x="0" y="12.6" font-size="12" fill="#fff">收到私聊消息，请在聊天窗口查看</text></svg><div style="left:12px;top:517px;width:135px;height:23.5px;background:rgba(0,0,0,.5);border-radius:1px"></div><svg class="t" style="left:22.0px;top:521.0px" width="29.3" height="18.0"><text class="cj" x="0" y="12.6" font-size="12" fill="#f0a35a">讲座:</text></svg><svg class="t" style="left:52.5px;top:521.0px" width="86.0" height="18.0"><text class="cj" x="0" y="12.6" font-size="12" fill="#fff">发送了一张图片</text></svg><div style="left:12px;top:546px;width:250px;height:57.5px;background:rgba(0,0,0,.5);border-radius:1px"></div><svg class="t" style="left:22.0px;top:550.3px" width="29.3" height="18.0"><text class="cj" x="0" y="12.6" font-size="12" fill="#f0a35a">讲座:</text></svg><svg class="t" style="left:52.5px;top:550.3px" width="194.0" height="18.0"><text class="cj" x="0" y="12.6" font-size="12" fill="#fff">这里每天都有大量优秀精彩的大咖讲</text></svg><svg class="t" style="left:22.0px;top:567.2px" width="218.0" height="18.0"><text class="cj" x="0" y="12.6" font-size="12" fill="#fff">座，比北大清华里面还要多。涉及讲座皆</text></svg><svg class="t" style="left:22.0px;top:584.0px" width="228.0" height="18.0"><text class="cj" x="0" y="12.6" font-size="12" fill="#fff">为专家，教授，知名学者，社会名流的精...</text></svg><div style="left:12px;top:609px;width:135px;height:23.5px;background:rgba(0,0,0,.5);border-radius:1px"></div><svg class="t" style="left:22.0px;top:613.0px" width="29.3" height="18.0"><text class="cj" x="0" y="12.6" font-size="12" fill="#f0a35a">讲座:</text></svg><svg class="t" style="left:52.5px;top:613.0px" width="86.0" height="18.0"><text class="cj" x="0" y="12.6" font-size="12" fill="#fff">发送了一张图片</text></svg><div style="left:12px;top:638px;width:236px;height:23.5px;background:rgba(0,0,0,.5);border-radius:1px"></div><svg class="t" style="left:22.0px;top:641.8px" width="34.1" height="18.0"><text class="cj" x="0" y="12.6" font-size="12" fill="#f0a35a">(私聊)</text></svg><svg class="t" style="left:58.0px;top:641.8px" width="182.0" height="18.0"><text class="cj" x="0" y="12.6" font-size="12" fill="#fff">收到私聊消息，请在聊天窗口查看</text></svg><div style="left:12px;top:666.5px;width:150px;height:23.5px;background:rgba(0,0,0,.5);border-radius:1px"></div><svg class="t" style="left:22.0px;top:670.4px" width="101.3" height="18.0"><text class="cj" x="0" y="12.6" font-size="12" fill="#f0a35a">202123052刘耀阳:</text></svg><svg class="t" style="left:127.5px;top:670.4px" width="26.0" height="18.0"><text class="cj" x="0" y="12.6" font-size="12" fill="#fff">来了</text></svg><div style="left:0px;top:825px;width:165px;height:23px;background:#15171a"></div><svg class="a" style="left:1px;top:829px" width="32" height="18"><path d="M0 1.500h14v10.500H0z" fill="#fff"/><path d="M4 16h6" stroke="#fff" stroke-width="1.6"/><path d="M4 10c.5-3 2-4.500 4.500-4.500V3.500l3.500 3-3.500 3v-2C6.500 7.500 5 8.500 4 10z" fill="#15171a"/><rect x="19.500" y="1" width="6.600" height="10.500" rx="3.300" fill="#4fdc4a"/><path d="M17.300 8.500a5.500 5.500 0 0 0 11 0M22.800 14v2.500" stroke="#fff" stroke-width="1.500" fill="none"/></svg><svg class="t" style="left:33.5px;top:826.9px" width="130.0" height="24.0"><text class="cj" x="0" y="16.8" font-size="16" fill="#fff">闻家辰的屏幕共享</text></svg><div style="left:1009px;top:19px;width:221px;height:829px;background:linear-gradient(90deg,#535759 0,#515557 5%,#474a4d 18%,#2d2f31 45%,#161718 72%,#000 94%)"></div><div style="left:1009px;top:19px;width:221px;height:17px;background:linear-gradient(90deg,#525557 0,#4b4d4f 25%,#2b2c2d 60%,#050505 90%)"></div><div style="left:1009px;top:19px;width:1px;height:829px;background:#3a3c3e"></div><div style="left:1019px;top:69.3px;width:202.5px;height:114.2px;background:#232627;border:1px solid #5a5d5f;border-radius:3px;box-sizing:border-box"></div><div style="left:1091.5px;top:91.3px;width:56px;height:56px;background:#0f7bfc;border-radius:50%"></div><svg class="t" style="left:1101.0px;top:106.9px" width="39.0" height="27.8"><text class="cj" x="0" y="19.43" font-size="18.5" fill="#fff">临襄</text></svg><div style="left:1019.5px;top:160px;width:60.5px;height:22px;background:#0f0f0f"></div><svg class="a" style="left:1023.2px;top:162.5px" width="16" height="16" viewBox="0 0 16 16"><rect x="5.2" y="1" width="5.600" height="9" rx="2.800" fill="#fff"/><path d="M3 7.500a5 5 0 0 0 10 0M8 12.500V15" stroke="#fff" stroke-width="1.400" fill="none"/><path d="M1.500 14L14.500 1.500" stroke="#111" stroke-width="2.600" opacity=".0"/><path d="M1.500 14L14.500 1.500" stroke="#dc3a5a" stroke-width="1.300"/></svg><svg class="t" style="left:1043.0px;top:164.4px" width="35.6" height="16.8"><text class="cj" x="0" y="11.76" font-size="11.2" font-weight="bold" fill="#fff">赵临襄</text></svg><div style="left:1019px;top:192.3px;width:202.5px;height:114.2px;background:#232627;border:1px solid #5a5d5f;border-radius:3px;box-sizing:border-box"></div><svg class="a" style="left:1091.7px;top:214.7px" width="55.6" height="55.6"><use href="#av_road" width="55.6" height="55.6"/></svg><div style="left:1019.5px;top:283px;width:62.3px;height:22px;background:#0f0f0f"></div><svg class="a" style="left:1023.2px;top:285.5px" width="16" height="16" viewBox="0 0 16 16"><rect x="5.2" y="1" width="5.600" height="9" rx="2.800" fill="#fff"/><path d="M3 7.500a5 5 0 0 0 10 0M8 12.500V15" stroke="#fff" stroke-width="1.400" fill="none"/><path d="M1.500 14L14.500 1.500" stroke="#111" stroke-width="2.600" opacity=".0"/><path d="M1.500 14L14.500 1.500" stroke="#dc3a5a" stroke-width="1.300"/></svg><svg class="t" style="left:0;top:0" width="1" height="1"><text class="ls" x="1043" y="298.8" font-size="11.8" fill="#fff" text-anchor="start" textLength="34.8" lengthAdjust="spacing">cgl222</text></svg><div style="left:1019px;top:315.3px;width:202.5px;height:114.2px;background:#232627;border:1px solid #5a5d5f;border-radius:3px;box-sizing:border-box"></div><svg class="a" style="left:1091.7px;top:337.7px" width="55.6" height="55.6"><use href="#av_mtn" width="55.6" height="55.6"/></svg><div style="left:1019.5px;top:406px;width:60.5px;height:22px;background:#0f0f0f"></div><svg class="a" style="left:1023.2px;top:408.5px" width="16" height="16" viewBox="0 0 16 16"><rect x="5.2" y="1" width="5.600" height="9" rx="2.800" fill="#fff"/><path d="M3 7.500a5 5 0 0 0 10 0M8 12.500V15" stroke="#fff" stroke-width="1.400" fill="none"/><path d="M1.500 14L14.500 1.500" stroke="#111" stroke-width="2.600" opacity=".0"/><path d="M1.500 14L14.500 1.500" stroke="#dc3a5a" stroke-width="1.300"/></svg><svg class="t" style="left:1043.0px;top:410.4px" width="35.6" height="16.8"><text class="cj" x="0" y="11.76" font-size="11.2" font-weight="bold" fill="#fff">许佑君</text></svg><div style="left:1019px;top:438.3px;width:202.5px;height:114.2px;background:#232627;border:1px solid #5a5d5f;border-radius:3px;box-sizing:border-box"></div><svg class="a" style="left:1091.7px;top:460.7px" width="55.6" height="55.6"><use href="#av_flowers" width="55.6" height="55.6"/></svg><div style="left:1019.5px;top:529px;width:60.5px;height:22px;background:#0f0f0f"></div><svg class="a" style="left:1023.2px;top:531.5px" width="16" height="16" viewBox="0 0 16 16"><rect x="5.2" y="1" width="5.600" height="9" rx="2.800" fill="#fff"/><path d="M3 7.500a5 5 0 0 0 10 0M8 12.500V15" stroke="#fff" stroke-width="1.400" fill="none"/><path d="M1.500 14L14.500 1.500" stroke="#111" stroke-width="2.600" opacity=".0"/><path d="M1.500 14L14.500 1.500" stroke="#dc3a5a" stroke-width="1.300"/></svg><svg class="t" style="left:1043.0px;top:533.4px" width="35.6" height="16.8"><text class="cj" x="0" y="11.76" font-size="11.2" font-weight="bold" fill="#fff">贾老师</text></svg><div style="left:1019px;top:561.3px;width:202.5px;height:114.2px;background:#232627;border:1px solid #5a5d5f;border-radius:3px;box-sizing:border-box"></div><svg class="a" style="left:1091.7px;top:583.7px" width="55.6" height="55.6"><use href="#av_lotus" width="55.6" height="55.6"/></svg><div style="left:1019.5px;top:652px;width:49px;height:22px;background:#0f0f0f"></div><svg class="a" style="left:1023.2px;top:654.5px" width="16" height="16" viewBox="0 0 16 16"><rect x="5.2" y="1" width="5.600" height="9" rx="2.800" fill="#fff"/><path d="M3 7.500a5 5 0 0 0 10 0M8 12.500V15" stroke="#fff" stroke-width="1.400" fill="none"/><path d="M1.500 14L14.500 1.500" stroke="#111" stroke-width="2.600" opacity=".0"/><path d="M1.500 14L14.500 1.500" stroke="#dc3a5a" stroke-width="1.300"/></svg><svg class="t" style="left:1043.0px;top:656.4px" width="24.4" height="16.8"><text class="cj" x="0" y="11.76" font-size="11.2" font-weight="bold" fill="#fff">李哲</text></svg><div style="left:1019px;top:684.3px;width:202.5px;height:114.2px;background:#232627;border:1px solid #5a5d5f;border-radius:3px;box-sizing:border-box"></div><svg class="a" style="left:1091.7px;top:706.7px" width="55.6" height="55.6"><use href="#av_wang" width="55.6" height="55.6"/></svg><div style="left:1019.5px;top:775px;width:157px;height:22px;background:#0f0f0f"></div><svg class="a" style="left:1023.2px;top:777.5px" width="16" height="16" viewBox="0 0 16 16"><rect x="5.2" y="1" width="5.600" height="9" rx="2.800" fill="#fff"/><path d="M3 7.500a5 5 0 0 0 10 0M8 12.500V15" stroke="#fff" stroke-width="1.400" fill="none"/><path d="M1.500 14L14.500 1.500" stroke="#111" stroke-width="2.600" opacity=".0"/><path d="M1.500 14L14.500 1.500" stroke="#dc3a5a" stroke-width="1.300"/></svg><svg class="t" style="left:0;top:0" width="1" height="1"><text class="ls" x="1043" y="790.8" font-size="12.05" fill="#fff" text-anchor="start" textLength="129.8" lengthAdjust="spacing">Dr.Wang'sMeetingRoom</text></svg><div style="left:981px;top:35px;width:244px;height:35.6px;background:#3b3d40;border-radius:4px;overflow:hidden"><div style="left:0;top:0;width:36.500px;height:36px;background:#35373a;border-right:1px solid #404245"></div></div><svg class="a" style="left:990.5px;top:44.5px" width="16.8" height="16.8" viewBox="0 0 16 16"><rect x="5.2" y="1" width="5.600" height="9" rx="2.800" fill="#8a8c8f"/><path d="M3 7.500a5 5 0 0 0 10 0M8 12.500V15" stroke="#8a8c8f" stroke-width="1.400" fill="none"/><path d="M1.500 14L14.500 1.500" stroke="#111" stroke-width="2.600" opacity=".0"/><path d="M1.500 14L14.500 1.500" stroke="#d83a50" stroke-width="1.300"/></svg><svg class="t" style="left:1024.0px;top:45.2px" width="96.3" height="18.0"><text class="cj" x="0" y="12.6" font-size="12" fill="#fff">正在讲话: 闻家辰;</text></svg><svg class="a" style="left:1130px;top:40px;opacity:.16" width="56" height="26"><g fill="#fff"><path d="M14 3l10 10-10 10L4 13z"/><path d="M30 3l10 10-10 10-10-10z" transform="translate(-2 0)"/><path d="M42 5l9 9-9 9-9-9z"/></g></svg><div style="left:1230px;top:19px;width:366px;height:829px;background:#fff"></div><div style="left:1230px;top:19px;width:366px;height:1px;background:#d9dbdf"></div><div style="left:1230px;top:48px;width:366px;height:47.5px;background:#fbfcfd"></div><div style="left:1230px;top:19.5px;width:170.5px;height:28.5px;background:#edeff3;border-top:1px solid #d4d7dc;border-bottom:1.5px solid #c9ccd2;box-sizing:border-box"></div><div style="left:1400.4px;top:19.5px;width:171.8px;height:28.7px;background:#fff;border:1px solid #d4d7dc;border-bottom:1px solid #e6e8ec;box-sizing:border-box"></div><div style="left:1572.2px;top:19.5px;width:23.8px;height:28.5px;background:#ebedf2;border-top:1px solid #d4d7dc;border-bottom:1.5px solid #c9ccd2;box-sizing:border-box"></div><svg class="a" style="left:1235px;top:27px" width="15" height="14"><path d="M1.500 .500h11a1.500 1.500 0 0 1 1.500 1.500v7a1.500 1.500 0 0 1-1.500 1.500h-1v3l-3.200-3H1.500A1.500 1.500 0 0 1 0 9V2A1.500 1.500 0 0 1 1.500 .500z" fill="#8b8d92"/><g fill="#fff"><circle cx="3.800" cy="5.500" r="1"/><circle cx="7" cy="5.500" r="1"/><circle cx="10.200" cy="5.500" r="1"/></g></svg><svg class="t" style="left:1253.9px;top:25.5px" width="26.0" height="18.0"><text class="cj" x="0" y="12.6" font-size="12" font-weight="bold" fill="#000">聊天</text></svg><svg class="a" style="left:1406px;top:26px" width="15" height="14"><circle cx="7.300" cy="3.600" r="3.300" fill="#9b9b9b"/><path d="M0 13.500c0-4.500 3-6 7.300-6s7.300 1.500 7.300 6z" fill="#9b9b9b"/></svg><svg class="t" style="left:1425.2px;top:25.5px" width="78.1" height="18.0"><text class="cj" x="0" y="12.6" font-size="12" fill="#111">管理成员(802)</text></svg><svg class="a" style="left:1582px;top:28px" width="9" height="10"><path d="M0 1.500h8M0 5h8M0 8.500h8" stroke="#b3b5bb" stroke-width="1.300"/></svg><div style="left:1242.3px;top:57px;width:345.5px;height:30px;background:#fff;border:1px solid #dcdfe4;box-sizing:border-box;border-radius:1px"></div><svg class="a" style="left:1248px;top:64px" width="16" height="16"><circle cx="6.300" cy="6.600" r="4.300" fill="none" stroke="#c2c2c2" stroke-width="1.400"/><path d="M9.500 9.800l3.800 4" stroke="#c2c2c2" stroke-width="1.600"/></svg><svg class="t" style="left:1266.0px;top:63.6px" width="49.6" height="17.9"><text class="cj" x="0" y="12.5" font-size="11.9" fill="#8c8c8c">搜索成员</text></svg><div style="left:1230px;top:95px;width:366px;height:1px;background:#f0f1f4"></div><div style="left:1414.2px;top:95px;width:181.8px;height:35.6px;background:#f5f6f9"></div><svg class="t" style="left:1298.3px;top:105.6px" width="48.6" height="18.5"><text class="cj" x="0" y="12.92" font-size="12.3" fill="#2c72cc">嘉宾(16)</text></svg><svg class="t" style="left:1479.5px;top:105.5px" width="55.4" height="18.5"><text class="cj" x="0" y="12.92" font-size="12.3" fill="#222">观众(786)</text></svg><svg class="a" style="left:1577px;top:105px" width="13" height="15"><path d="M4.200 7V2.200a.9.900 0 0 1 1.800 0V6h.400V1a.9.900 0 0 1 1.800 0v5h.400V1.800a.9.900 0 0 1 1.800 0V6.500h.400V3.600a.8.800 0 0 1 1.600 0V10c0 3-1.800 4.800-4.600 4.800-2.300 0-3.400-1-4.600-2.800L.700 8.600c-.500-.800.500-1.700 1.300-1L4.200 9.400z" fill="#1a6ef2"/></svg><svg class="a" style="left:1248.1px;top:137.8px" width="30" height="30"><use href="#av_baby" width="30" height="30"/></svg><svg class="t" style="left:1287.8px;top:136.6px" width="38.0" height="18.0"><text class="cj" x="0" y="12.6" font-size="12" fill="#111">卜艳鑫</text></svg><svg class="t" style="left:1288.2px;top:153.9px" width="64.0" height="17.7"><text class="cj" x="0" y="12.39" font-size="11.8" fill="#8a8a8a">(主持人, 我)</text></svg><svg class="a" style="left:1552px;top:144.8px" width="16" height="16"><circle cx="8" cy="8" r="6.500" fill="none" stroke="#f03a3a" stroke-width="1"/><circle cx="8" cy="8" r="3.900" fill="#f03232"/></svg><svg class="a" style="left:1575.2px;top:143.8px" width="18" height="18" viewBox="0 0 18 18"><rect x="6.200" y="1.500" width="5.600" height="9.500" rx="2.800" fill="#d0d3d3"/><path d="M4 8.500a5 5 0 0 0 10 0M9 13.500V16M6.500 16.200h5" stroke="#d0d3d3" stroke-width="1.300" fill="none"/><path d="M2.200 15.500L16 2.300" stroke="#e4606a" stroke-width="1"/></svg><div style="left:1248.1px;top:181.8px;width:30px;height:30px;background:#0f7bfc;border-radius:50%"></div><svg class="t" style="left:1251.9px;top:189.3px" width="24.4" height="16.8"><text class="cj" x="0" y="11.76" font-size="11.2" font-weight="bold" fill="#fff">家辰</text></svg><svg class="t" style="left:1287.8px;top:180.6px" width="38.0" height="18.0"><text class="cj" x="0" y="12.6" font-size="12" fill="#111">闻家辰</text></svg><svg class="t" style="left:1288.2px;top:197.9px" width="33.6" height="17.7"><text class="cj" x="0" y="12.39" font-size="11.8" fill="#8a8a8a">(嘉宾)</text></svg><svg class="a" style="left:1529px;top:190.3px" width="14" height="14"><rect x="1" y="1" width="11.700" height="8.700" rx=".8" fill="#cbcbcb"/><path d="M4 12.200h6" stroke="#cbcbcb" stroke-width="1.200"/><path d="M4.500 7c.5-2 1.500-3 3.500-3V2.800L10.500 5 8 7.200V6C6.500 6 5.500 6.300 4.500 7z" fill="#f2f2f2"/></svg><svg class="a" style="left:1551px;top:188.3px" width="18" height="18" viewBox="0 0 18 18"><rect x="5.800" y="1.300" width="6.400" height="10" rx="3.200" fill="#4ee44a"/><path d="M3.800 8.500a5.200 5.200 0 0 0 10.400 0M9 13.800V16" stroke="#a8eaa6" stroke-width="1.200" fill="none"/><path d="M6 16.300h6" stroke="#c9a8d8" stroke-width="1"/></svg><svg class="a" style="left:1575px;top:189.8px" width="18" height="14" viewBox="0 0 18 14"><rect x="1.500" y="2.200" width="9.800" height="9.600" rx="1.200" fill="#d0d3d3"/><path d="M11.500 6.200L16.500 3v8L11.500 7.800z" fill="#d0d3d3"/><path d="M1.500 12.300L13.800 1.300" stroke="#e4606a" stroke-width="1"/></svg><svg class="a" style="left:1248.1px;top:225.8px" width="30" height="30"><use href="#av_road" width="30" height="30"/></svg><svg class="t" style="left:0;top:0" width="1" height="1"><text class="ls" x="1288.2" y="237.2" font-size="12.8" fill="#111" text-anchor="start" textLength="37.7" lengthAdjust="spacing">cgl222</text></svg><svg class="t" style="left:1288.2px;top:241.9px" width="33.6" height="17.7"><text class="cj" x="0" y="12.39" font-size="11.8" fill="#8a8a8a">(嘉宾)</text></svg><svg class="a" style="left:1551px;top:231.8px" width="18" height="18" viewBox="0 0 18 18"><rect x="6.200" y="1.500" width="5.600" height="9.500" rx="2.800" fill="#d0d3d3"/><path d="M4 8.500a5 5 0 0 0 10 0M9 13.500V16M6.500 16.200h5" stroke="#d0d3d3" stroke-width="1.300" fill="none"/><path d="M2.200 15.500L16 2.300" stroke="#e4606a" stroke-width="1"/></svg><svg class="a" style="left:1575px;top:233.8px" width="18" height="14" viewBox="0 0 18 14"><rect x="1.500" y="2.200" width="9.800" height="9.600" rx="1.200" fill="#d0d3d3"/><path d="M11.500 6.200L16.500 3v8L11.500 7.800z" fill="#d0d3d3"/><path d="M1.500 12.300L13.800 1.300" stroke="#e4606a" stroke-width="1"/></svg><svg class="a" style="left:1248.1px;top:269.8px" width="30" height="30"><use href="#av_wang" width="30" height="30"/></svg><svg class="t" style="left:0;top:0" width="1" height="1"><text class="ls" x="1288.2" y="281.2" font-size="13.1" fill="#111" text-anchor="start" textLength="141.1" lengthAdjust="spacing">Dr.Wang'sMeetingRoom</text></svg><svg class="t" style="left:1288.2px;top:285.9px" width="33.6" height="17.7"><text class="cj" x="0" y="12.39" font-size="11.8" fill="#8a8a8a">(嘉宾)</text></svg><svg class="a" style="left:1551px;top:275.8px" width="18" height="18" viewBox="0 0 18 18"><rect x="6.200" y="1.500" width="5.600" height="9.500" rx="2.800" fill="#d0d3d3"/><path d="M4 8.500a5 5 0 0 0 10 0M9 13.500V16M6.500 16.200h5" stroke="#d0d3d3" stroke-width="1.300" fill="none"/><path d="M2.200 15.500L16 2.300" stroke="#e4606a" stroke-width="1"/></svg><svg class="a" style="left:1575px;top:277.8px" width="18" height="14" viewBox="0 0 18 14"><rect x="1.500" y="2.200" width="9.800" height="9.600" rx="1.200" fill="#d0d3d3"/><path d="M11.500 6.200L16.500 3v8L11.500 7.800z" fill="#d0d3d3"/><path d="M1.500 12.300L13.800 1.300" stroke="#e4606a" stroke-width="1"/></svg><svg class="a" style="left:1248.1px;top:313.8px" width="30" height="30"><use href="#av_cartoon" width="30" height="30"/></svg><svg class="t" style="left:1287.8px;top:312.6px" width="38.0" height="18.0"><text class="cj" x="0" y="12.6" font-size="12" fill="#111">侯云雷</text></svg><svg class="t" style="left:1288.2px;top:329.9px" width="33.6" height="17.7"><text class="cj" x="0" y="12.39" font-size="11.8" fill="#8a8a8a">(嘉宾)</text></svg><svg class="a" style="left:1551px;top:319.8px" width="18" height="18" viewBox="0 0 18 18"><rect x="6.200" y="1.500" width="5.600" height="9.500" rx="2.800" fill="#d0d3d3"/><path d="M4 8.500a5 5 0 0 0 10 0M9 13.500V16M6.500 16.200h5" stroke="#d0d3d3" stroke-width="1.300" fill="none"/><path d="M2.200 15.500L16 2.300" stroke="#e4606a" stroke-width="1"/></svg><svg class="a" style="left:1575px;top:321.8px" width="18" height="14" viewBox="0 0 18 14"><rect x="1.500" y="2.200" width="9.800" height="9.600" rx="1.200" fill="#d0d3d3"/><path d="M11.500 6.200L16.500 3v8L11.500 7.800z" fill="#d0d3d3"/><path d="M1.500 12.300L13.800 1.300" stroke="#e4606a" stroke-width="1"/></svg><svg class="a" style="left:1248.1px;top:357.8px" width="30" height="30"><use href="#av_flowers" width="30" height="30"/></svg><svg class="t" style="left:1287.8px;top:356.6px" width="38.0" height="18.0"><text class="cj" x="0" y="12.6" font-size="12" fill="#111">贾老师</text></svg><svg class="t" style="left:1288.2px;top:373.9px" width="33.6" height="17.7"><text class="cj" x="0" y="12.39" font-size="11.8" fill="#8a8a8a">(嘉宾)</text></svg><svg class="a" style="left:1551px;top:363.8px" width="18" height="18" viewBox="0 0 18 18"><rect x="6.200" y="1.500" width="5.600" height="9.500" rx="2.800" fill="#d0d3d3"/><path d="M4 8.500a5 5 0 0 0 10 0M9 13.500V16M6.500 16.200h5" stroke="#d0d3d3" stroke-width="1.300" fill="none"/><path d="M2.200 15.500L16 2.300" stroke="#e4606a" stroke-width="1"/></svg><svg class="a" style="left:1575px;top:365.8px" width="18" height="14" viewBox="0 0 18 14"><rect x="1.500" y="2.200" width="9.800" height="9.600" rx="1.200" fill="#d0d3d3"/><path d="M11.500 6.200L16.500 3v8L11.500 7.800z" fill="#d0d3d3"/><path d="M1.500 12.300L13.800 1.300" stroke="#e4606a" stroke-width="1"/></svg><svg class="a" style="left:1248.1px;top:401.8px" width="30" height="30"><use href="#av_jiang" width="30" height="30"/></svg><svg class="t" style="left:1287.8px;top:400.6px" width="38.0" height="18.0"><text class="cj" x="0" y="12.6" font-size="12" fill="#111">蒋旭亮</text></svg><svg class="t" style="left:1288.2px;top:417.9px" width="33.6" height="17.7"><text class="cj" x="0" y="12.39" font-size="11.8" fill="#8a8a8a">(嘉宾)</text></svg><svg class="a" style="left:1551px;top:407.8px" width="18" height="18" viewBox="0 0 18 18"><rect x="6.200" y="1.500" width="5.600" height="9.500" rx="2.800" fill="#d0d3d3"/><path d="M4 8.500a5 5 0 0 0 10 0M9 13.500V16M6.500 16.200h5" stroke="#d0d3d3" stroke-width="1.300" fill="none"/><path d="M2.200 15.500L16 2.300" stroke="#e4606a" stroke-width="1"/></svg><svg class="a" style="left:1575px;top:409.8px" width="18" height="14" viewBox="0 0 18 14"><rect x="1.500" y="2.200" width="9.800" height="9.600" rx="1.200" fill="#d0d3d3"/><path d="M11.500 6.200L16.500 3v8L11.500 7.800z" fill="#d0d3d3"/><path d="M1.500 12.300L13.800 1.300" stroke="#e4606a" stroke-width="1"/></svg><svg class="a" style="left:1248.1px;top:445.8px" width="30" height="30"><use href="#av_lotus" width="30" height="30"/></svg><svg class="t" style="left:1287.8px;top:444.6px" width="26.0" height="18.0"><text class="cj" x="0" y="12.6" font-size="12" fill="#111">李哲</text></svg><svg class="t" style="left:1288.2px;top:461.9px" width="33.6" height="17.7"><text class="cj" x="0" y="12.39" font-size="11.8" fill="#8a8a8a">(嘉宾)</text></svg><svg class="a" style="left:1551px;top:451.8px" width="18" height="18" viewBox="0 0 18 18"><rect x="6.200" y="1.500" width="5.600" height="9.500" rx="2.800" fill="#d0d3d3"/><path d="M4 8.500a5 5 0 0 0 10 0M9 13.500V16M6.500 16.200h5" stroke="#d0d3d3" stroke-width="1.300" fill="none"/><path d="M2.200 15.500L16 2.300" stroke="#e4606a" stroke-width="1"/></svg><svg class="a" style="left:1575px;top:453.8px" width="18" height="14" viewBox="0 0 18 14"><rect x="1.500" y="2.200" width="9.800" height="9.600" rx="1.200" fill="#d0d3d3"/><path d="M11.500 6.200L16.500 3v8L11.500 7.800z" fill="#d0d3d3"/><path d="M1.500 12.300L13.800 1.300" stroke="#e4606a" stroke-width="1"/></svg><svg class="a" style="left:1253.200px;top:490.8px;overflow:hidden;border-radius:2px 2px 0 0" width="19.600" height="24.400" viewBox="0 0 100 100" preserveAspectRatio="none"><g filter="url(#bl)"><rect width="100" height="100" fill="#2b1e2e"/><rect width="100" height="34" fill="#b796cc"/><path d="M0 0L0 14L24 22L44 30L70 38L100 40V26L70 14L30 4z" fill="#e6b4dc" opacity=".85"/><path d="M0 12L10 14L24 26L30 22L36 32L50 34L56 40L70 42L100 44V100H0z" fill="#2a1a2c"/><path d="M0 50L100 46V70L0 74z" fill="#3a2c40" opacity=".7"/><rect y="84" width="100" height="16" fill="#0e0810"/></g></svg><svg class="t" style="left:1287.8px;top:488.6px" width="38.0" height="18.0"><text class="cj" x="0" y="12.6" font-size="12" fill="#111">刘亚婧</text></svg><svg class="t" style="left:1288.2px;top:505.9px" width="33.6" height="17.7"><text class="cj" x="0" y="12.39" font-size="11.8" fill="#8a8a8a">(嘉宾)</text></svg><svg class="a" style="left:1551px;top:495.8px" width="18" height="18" viewBox="0 0 18 18"><rect x="6.200" y="1.500" width="5.600" height="9.500" rx="2.800" fill="#d0d3d3"/><path d="M4 8.500a5 5 0 0 0 10 0M9 13.500V16M6.500 16.200h5" stroke="#d0d3d3" stroke-width="1.300" fill="none"/><path d="M2.200 15.500L16 2.300" stroke="#e4606a" stroke-width="1"/></svg><svg class="a" style="left:1575px;top:497.8px" width="18" height="14" viewBox="0 0 18 14"><rect x="1.500" y="2.200" width="9.800" height="9.600" rx="1.200" fill="#d0d3d3"/><path d="M11.500 6.200L16.500 3v8L11.500 7.800z" fill="#d0d3d3"/><path d="M1.500 12.300L13.800 1.300" stroke="#e4606a" stroke-width="1"/></svg><div style="left:1248.100px;top:533.8px;width:30px;height:30px;border-radius:50%;overflow:hidden"><svg class="a" style="left:0;top:0" width="30" height="30"><use href="#av_qin" width="30" height="30"/></svg></div><svg class="t" style="left:1287.8px;top:532.6px" width="38.0" height="18.0"><text class="cj" x="0" y="12.6" font-size="12" fill="#111">秦铭泽</text></svg><svg class="t" style="left:1288.2px;top:549.9px" width="33.6" height="17.7"><text class="cj" x="0" y="12.39" font-size="11.8" fill="#8a8a8a">(嘉宾)</text></svg><svg class="a" style="left:1551px;top:539.8px" width="18" height="18" viewBox="0 0 18 18"><rect x="6.200" y="1.500" width="5.600" height="9.500" rx="2.800" fill="#d0d3d3"/><path d="M4 8.500a5 5 0 0 0 10 0M9 13.500V16M6.500 16.200h5" stroke="#d0d3d3" stroke-width="1.300" fill="none"/><path d="M2.200 15.500L16 2.300" stroke="#e4606a" stroke-width="1"/></svg><svg class="a" style="left:1575px;top:541.8px" width="18" height="14" viewBox="0 0 18 14"><rect x="1.500" y="2.200" width="9.800" height="9.600" rx="1.200" fill="#d0d3d3"/><path d="M11.500 6.200L16.500 3v8L11.500 7.800z" fill="#d0d3d3"/><path d="M1.500 12.300L13.800 1.300" stroke="#e4606a" stroke-width="1"/></svg><svg class="a" style="left:1248.1px;top:577.8px" width="30" height="30"><use href="#av_shen" width="30" height="30"/></svg><svg class="t" style="left:1287.8px;top:576.6px" width="54.2" height="18.0"><text class="cj" x="0" y="12.6" font-size="12" fill="#111">沈药-刘丹</text></svg><svg class="t" style="left:1288.2px;top:593.9px" width="33.6" height="17.7"><text class="cj" x="0" y="12.39" font-size="11.8" fill="#8a8a8a">(嘉宾)</text></svg><svg class="a" style="left:1551px;top:583.8px" width="18" height="18" viewBox="0 0 18 18"><rect x="6.200" y="1.500" width="5.600" height="9.500" rx="2.800" fill="#d0d3d3"/><path d="M4 8.500a5 5 0 0 0 10 0M9 13.500V16M6.500 16.200h5" stroke="#d0d3d3" stroke-width="1.300" fill="none"/><path d="M2.200 15.500L16 2.300" stroke="#e4606a" stroke-width="1"/></svg><svg class="a" style="left:1575px;top:585.8px" width="18" height="14" viewBox="0 0 18 14"><rect x="1.500" y="2.200" width="9.800" height="9.600" rx="1.200" fill="#d0d3d3"/><path d="M11.500 6.200L16.500 3v8L11.500 7.800z" fill="#d0d3d3"/><path d="M1.500 12.300L13.800 1.300" stroke="#e4606a" stroke-width="1"/></svg><svg class="a" style="left:1248.1px;top:621.8px" width="30" height="30"><use href="#av_wting" width="30" height="30"/></svg><svg class="t" style="left:1287.8px;top:620.6px" width="26.0" height="18.0"><text class="cj" x="0" y="12.6" font-size="12" fill="#111">王婷</text></svg><svg class="t" style="left:1288.2px;top:637.9px" width="33.6" height="17.7"><text class="cj" x="0" y="12.39" font-size="11.8" fill="#8a8a8a">(嘉宾)</text></svg><svg class="a" style="left:1551px;top:627.8px" width="18" height="18" viewBox="0 0 18 18"><rect x="6.200" y="1.500" width="5.600" height="9.500" rx="2.800" fill="#d0d3d3"/><path d="M4 8.500a5 5 0 0 0 10 0M9 13.500V16M6.500 16.200h5" stroke="#d0d3d3" stroke-width="1.300" fill="none"/><path d="M2.200 15.500L16 2.300" stroke="#e4606a" stroke-width="1"/></svg><svg class="a" style="left:1575px;top:629.8px" width="18" height="14" viewBox="0 0 18 14"><rect x="1.500" y="2.200" width="9.800" height="9.600" rx="1.200" fill="#d0d3d3"/><path d="M11.500 6.200L16.500 3v8L11.500 7.800z" fill="#d0d3d3"/><path d="M1.500 12.300L13.800 1.300" stroke="#e4606a" stroke-width="1"/></svg><svg class="a" style="left:1248.1px;top:665.8px" width="30" height="30"><use href="#av_default" width="30" height="30"/></svg><svg class="t" style="left:1287.8px;top:664.6px" width="38.0" height="18.0"><text class="cj" x="0" y="12.6" font-size="12" fill="#111">吴成军</text></svg><svg class="t" style="left:1288.2px;top:681.9px" width="33.6" height="17.7"><text class="cj" x="0" y="12.39" font-size="11.8" fill="#8a8a8a">(嘉宾)</text></svg><svg class="a" style="left:1551px;top:671.8px" width="18" height="18" viewBox="0 0 18 18"><rect x="6.200" y="1.500" width="5.600" height="9.500" rx="2.800" fill="#d0d3d3"/><path d="M4 8.500a5 5 0 0 0 10 0M9 13.500V16M6.500 16.200h5" stroke="#d0d3d3" stroke-width="1.300" fill="none"/><path d="M2.200 15.500L16 2.300" stroke="#e4606a" stroke-width="1"/></svg><svg class="a" style="left:1575px;top:673.8px" width="18" height="14" viewBox="0 0 18 14"><rect x="1.500" y="2.200" width="9.800" height="9.600" rx="1.200" fill="#d0d3d3"/><path d="M11.500 6.200L16.500 3v8L11.500 7.800z" fill="#d0d3d3"/><path d="M1.500 12.300L13.800 1.300" stroke="#e4606a" stroke-width="1"/></svg><svg class="a" style="left:1248.1px;top:709.8px" width="30" height="30"><use href="#av_mtn" width="30" height="30"/></svg><svg class="t" style="left:1287.8px;top:708.6px" width="38.0" height="18.0"><text class="cj" x="0" y="12.6" font-size="12" fill="#111">许佑君</text></svg><svg class="t" style="left:1288.2px;top:725.9px" width="33.6" height="17.7"><text class="cj" x="0" y="12.39" font-size="11.8" fill="#8a8a8a">(嘉宾)</text></svg><svg class="a" style="left:1551px;top:715.8px" width="18" height="18" viewBox="0 0 18 18"><rect x="6.200" y="1.500" width="5.600" height="9.500" rx="2.800" fill="#d0d3d3"/><path d="M4 8.500a5 5 0 0 0 10 0M9 13.500V16M6.500 16.200h5" stroke="#d0d3d3" stroke-width="1.300" fill="none"/><path d="M2.200 15.500L16 2.300" stroke="#e4606a" stroke-width="1"/></svg><svg class="a" style="left:1575px;top:717.8px" width="18" height="14" viewBox="0 0 18 14"><rect x="1.500" y="2.200" width="9.800" height="9.600" rx="1.200" fill="#d0d3d3"/><path d="M11.500 6.200L16.500 3v8L11.500 7.800z" fill="#d0d3d3"/><path d="M1.500 12.300L13.800 1.300" stroke="#e4606a" stroke-width="1"/></svg><div style="left:1248.1px;top:753.8px;width:30px;height:30px;background:#0f7bfc;border-radius:50%"></div><svg class="t" style="left:1251.9px;top:761.3px" width="24.4" height="16.8"><text class="cj" x="0" y="11.76" font-size="11.2" font-weight="bold" fill="#fff">临襄</text></svg><svg class="t" style="left:1287.8px;top:752.6px" width="38.0" height="18.0"><text class="cj" x="0" y="12.6" font-size="12" fill="#111">赵临襄</text></svg><svg class="t" style="left:1288.2px;top:769.9px" width="33.6" height="17.7"><text class="cj" x="0" y="12.39" font-size="11.8" fill="#8a8a8a">(嘉宾)</text></svg><svg class="a" style="left:1551px;top:759.8px" width="18" height="18" viewBox="0 0 18 18"><rect x="6.200" y="1.500" width="5.600" height="9.500" rx="2.800" fill="#d0d3d3"/><path d="M4 8.500a5 5 0 0 0 10 0M9 13.500V16M6.500 16.200h5" stroke="#d0d3d3" stroke-width="1.300" fill="none"/><path d="M2.200 15.500L16 2.300" stroke="#e4606a" stroke-width="1"/></svg><svg class="a" style="left:1575px;top:761.8px" width="18" height="14" viewBox="0 0 18 14"><rect x="1.500" y="2.200" width="9.800" height="9.600" rx="1.200" fill="#d0d3d3"/><path d="M11.500 6.200L16.500 3v8L11.500 7.800z" fill="#d0d3d3"/><path d="M1.500 12.300L13.800 1.300" stroke="#e4606a" stroke-width="1"/></svg><div style="left:1230px;top:789px;width:360px;height:1px;background:#e3e5e9"></div><div style="left:1275px;top:806px;width:88px;height:26px;border:1px solid #d9dde4;box-sizing:border-box;background:#fff"></div><svg class="t" style="left:1295.0px;top:811.3px" width="50.0" height="18.0"><text class="cj" x="0" y="12.6" font-size="12" font-weight="bold" fill="#1f6fd8">全体静音</text></svg><div style="left:1379.3px;top:806px;width:87.5px;height:26px;border:1px solid #d9dde4;box-sizing:border-box;background:#fff"></div><svg class="t" style="left:1387.0px;top:811.3px" width="74.0" height="18.0"><text class="cj" x="0" y="12.6" font-size="12" font-weight="bold" fill="#1f6fd8">解除全体静音</text></svg><div style="left:1483px;top:806px;width:72px;height:26px;border:1px solid #d9dde4;box-sizing:border-box;background:#fff"></div><svg class="t" style="left:1501.0px;top:811.0px" width="26.0" height="18.0"><text class="cj" x="0" y="12.6" font-size="12" font-weight="bold" fill="#1f6fd8">更多</text></svg><svg class="a" style="left:1529px;top:816px" width="8" height="6"><path d="M.500 .500h6L3.500 4.800z" fill="#1f6fd8"/></svg><div style="left:1590px;top:782px;width:8px;height:57px;background:#55585b;border-radius:3px 0 0 3px;overflow:hidden"><div style="left:1.500px;top:14px;width:7px;height:40px;background:repeating-linear-gradient(180deg,#3db54a 0,#3db54a 1.300px,#2f7f3a 1.300px,#2f7f3a 2.600px)"></div></div></body></html>
